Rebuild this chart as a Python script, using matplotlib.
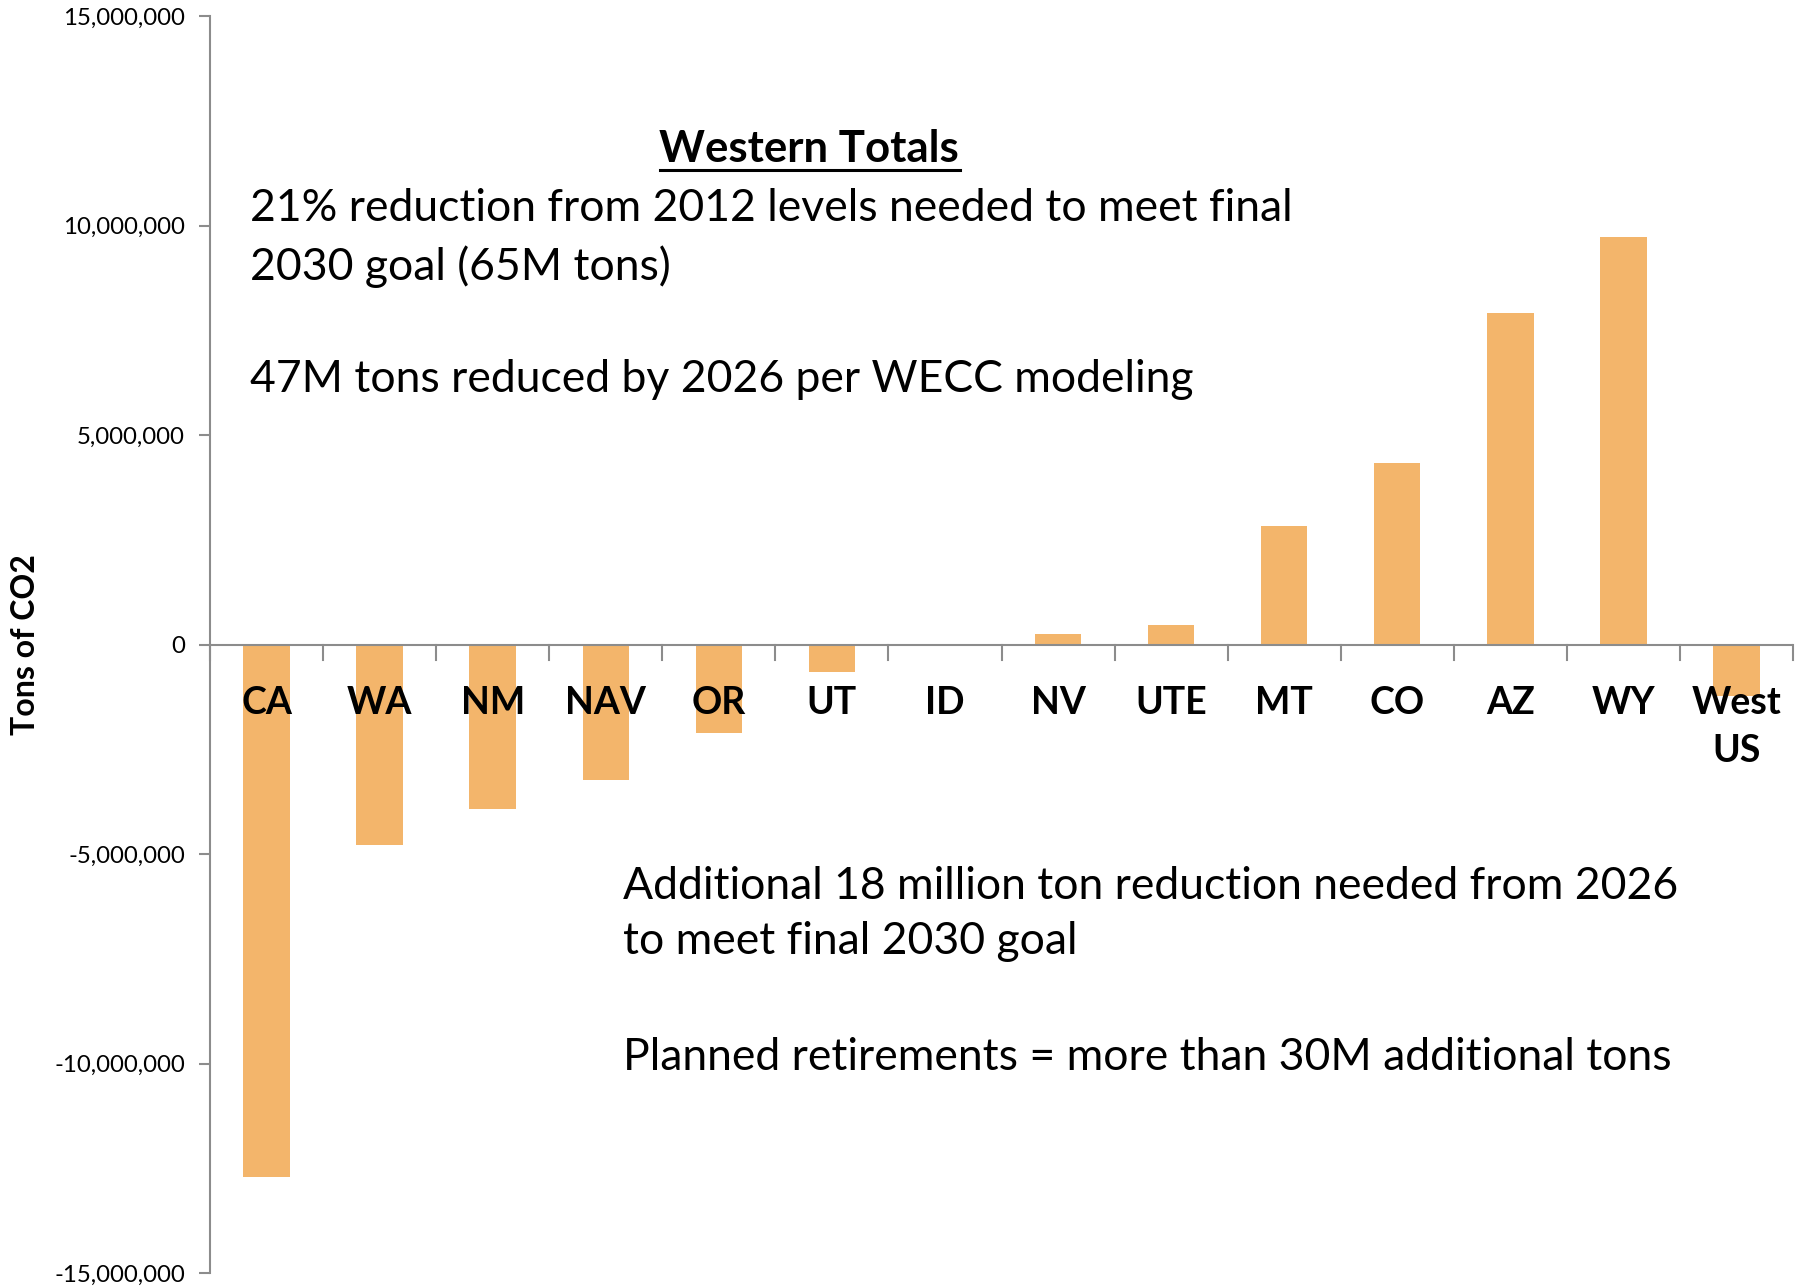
import matplotlib.pyplot as plt
import numpy as np
from matplotlib.ticker import FuncFormatter

# CO2 change per state (tons)
states = ["CA", "WA", "NM", "NAV", "OR", "UT", "ID", "NV", "UTE", "MT", "CO", "AZ", "WY", "West\nUS"]
tons = [-12700000, -4780000, -3930000, -3240000, -2120000, -650000, 0,
        240000, 470000, 2820000, 4330000, 7920000, 9730000, -1230000]
yticks = [-15000000, -10000000, -5000000, 0, 5000000, 10000000, 15000000]

bar_color = "#F3B56B"
axis_gray = "#8C8C8C"
font = "Lato"

W, H = 1800, 1287
ax_l, ax_r, ax_t, ax_b = 210, 1793, 16, 1273
fig = plt.figure(figsize=(W / 100, H / 100), dpi=100)
ax = fig.add_axes([ax_l / W, 1 - ax_b / H, (ax_r - ax_l) / W, (ax_b - ax_t) / H])

x = np.arange(len(states))
ax.bar(x, tons, width=0.41, color=bar_color, zorder=2)

ax.set_xlim(-0.5, len(states) - 0.5)
ax.set_ylim(-15000000, 15000000)
ax.set_yticks(yticks)
ax.yaxis.set_major_formatter(FuncFormatter(lambda v, p: f"{int(v):,}"))
for lbl in ax.get_yticklabels():
    lbl.set_fontfamily(font)
    lbl.set_fontsize(17.3)
ax.tick_params(axis="y", direction="out", length=8, width=1.5, color=axis_gray, pad=10)

# x axis drawn at zero, with ticks at category boundaries
for s in ["top", "right", "bottom"]:
    ax.spines[s].set_visible(False)
ax.spines["left"].set_color(axis_gray)
ax.spines["left"].set_linewidth(1.5)
ax.axhline(0, color=axis_gray, lw=1.5, zorder=3)
ax.set_xticks([])
for b in np.arange(len(states) + 1) - 0.5:
    ax.plot([b, b], [0, -380000], color=axis_gray, lw=1.5, zorder=3, clip_on=False)

# category labels just below the zero line
for xi, name in zip(x, states):
    ax.text(xi, -1000000, name, ha="center", va="top", fontsize=27, fontweight="bold",
            family=font, linespacing=1.5, zorder=4)

ax.set_ylabel("Tons of CO2", fontsize=23, fontweight="bold", family=font)
ax.yaxis.set_label_coords((40 - ax_l) / (ax_r - ax_l), 0.5)

def px(xp, yp):
    return xp / W, 1 - yp / H

fig.text(*px(809, 149), "Western Totals", ha="center", va="center", fontsize=31.5,
         fontweight="bold", family=font)
# underline
fig.add_artist(plt.Line2D([660 / W, 960 / W], [1 - 170 / H, 1 - 170 / H], color="black", lw=2.2))

fig.text(*px(250, 238), "21% reduction from 2012 levels needed to meet final\n2030 goal (65M tons)",
         ha="left", va="center", fontsize=32, family=font, linespacing=1.45)
fig.text(*px(250, 380), "47M tons reduced by 2026 per WECC modeling",
         ha="left", va="center", fontsize=32, family=font)
fig.text(*px(623, 914), "Additional 18 million ton reduction needed from 2026\nto meet final 2030 goal",
         ha="left", va="center", fontsize=32, family=font, linespacing=1.45)
fig.text(*px(623, 1057), "Planned retirements = more than 30M additional tons",
         ha="left", va="center", fontsize=32, family=font)

fig.savefig("out.png", dpi=100)
